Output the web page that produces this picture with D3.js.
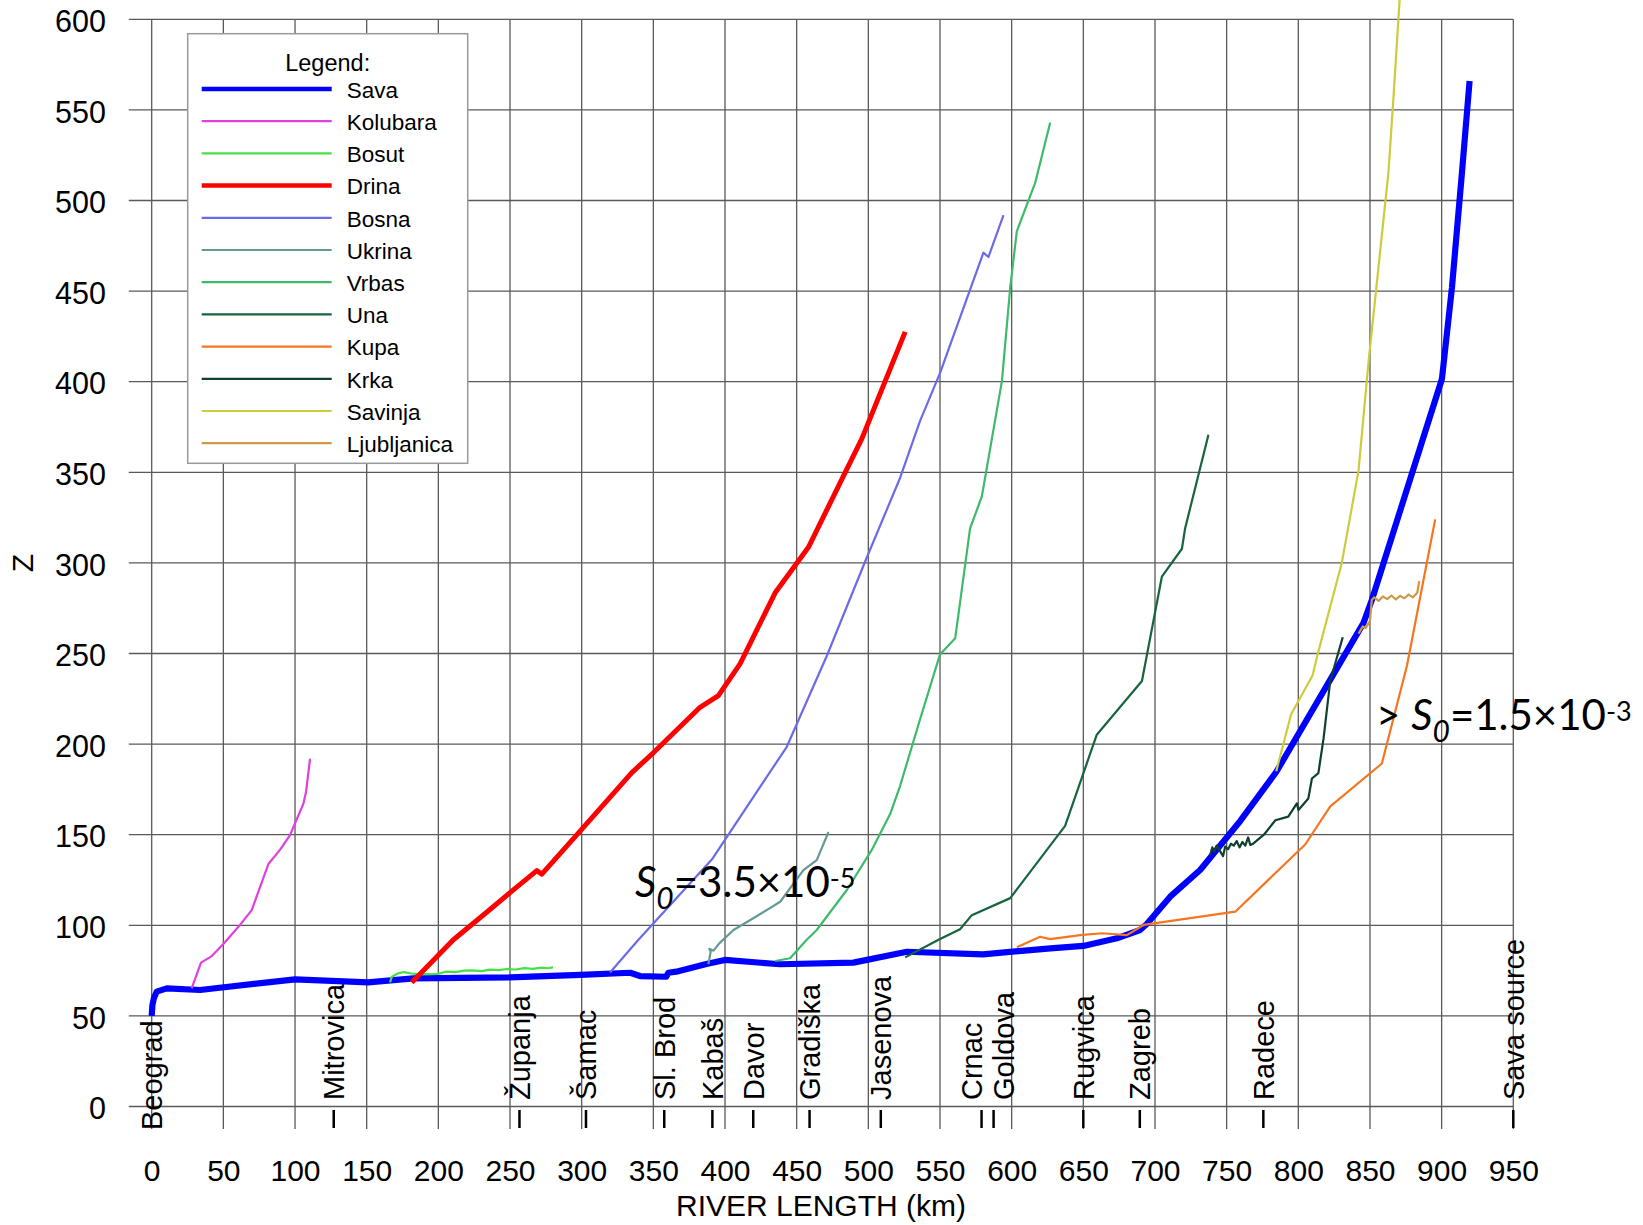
<!DOCTYPE html>
<html>
<head>
<meta charset="utf-8">
<script src="https://cdn.jsdelivr.net/npm/d3@7"></script>
<style>
  body { margin: 0; background: #fff; }
  svg text { font-family: "Liberation Sans", Arial, sans-serif; fill: #000; }
  .note text, text.note { font-family: Lato, "Open Sans", sans-serif; }
</style>
</head>
<body>
<svg id="chart" width="1643" height="1225"></svg>
<script>
// Long profiles of the Sava and its tributaries: [river length km, Z]
const sava = [[0,50],[0.5,56],[1.5,59.7],[3.5,63.4],[10.5,65.2],[33.7,64.3],[100,70.2],[151,68.5],
  [182.6,70.7],[250,71.3],[299,72.6],[333.8,73.8],[340.7,72],[359,71.6],[360.5,73.8],[366,74.4],
  [387,78.6],[400,80.9],[438.4,78.5],[489.6,79.4],[526.9,85.4],[580,84],[627,87.3],[650,88.6],
  [673.4,92.8],[689.6,97.4],[694.3,100.7],[710.6,115.8],[731.5,130.5],[759.5,157.6],[784.6,184.6],
  [845.5,266.9],[851.3,279.5],[900.2,401.5],[907.2,452],[914.2,515.6],[919.5,566]];
const kolubara = [[27.9,65.2],[34.4,79.4],[41.9,83],[50,89.7],[61.6,100.2],[69.8,108.4],[81.4,133.8],
  [89.5,141.6],[96.5,149.8],[100,156.3],[105.8,167],[107.7,173.7],[110.5,192]];
const bosut = [[166.3,68.5],[167.5,71.6],[172,73.5],[176,74.2],[181,73.4],[186,73.1],[194,73],[200,73.2],
  [205,74.4],[212,74.2],[218,75],[224,75.1],[230,74.7],[236,75.5],[242,75.3],[248,75.9],[254,75.6],
  [260,76.4],[266,76],[272,76.6],[276,76.3],[280,76.8]];
const drina = [[181.4,68.5],[210.5,92],[231.4,105.7],[250,118],[268.7,130.2],[272.2,128.2],[298.9,152],
  [335,184.3],[350,195.2],[382.6,220.3],[395.4,226.8],[410.5,244.3],[435,283.5],[458.2,308.6],
  [482.6,347.9],[495.5,368.6],[525.7,427.5]];
const bosna = [[319.8,74],[339.6,92],[390.8,136.3],[443.1,198.5],[471,248.6],[499,303.1],[522.2,347],
  [536.1,378.4],[550,404.7],[580.3,471.2],[583.8,468.8],[594.3,491.9]];
const ukrina = [[388.4,78.6],[390,85.5],[389,87],[392,86],[396,90],[405.9,97.4],[420,104],[438.5,113],
  [454.7,130.5],[464,136],[472.2,151.5]];
const vrbas = [[435,80.3],[445.4,81.8],[457,92],[464,97.4],[485,119.5],[502.4,141.6],[515.2,161.4],
  [522.2,177],[536.1,213.7],[550,249.5],[560.6,258.4],[571,319],[579.2,336.7],[593.2,400.3],
  [599,452],[603.6,483],[616.4,509.7],[626.9,543]];
const una = [[525.7,82.3],[549,92],[564,97.8],[572.2,105.6],[599,115],[637.3,154.9],[659.4,205.2],
  [690.9,234.8],[704.8,292.4],[718.8,307.8],[721,319],[737.3,370.7]];
const kupa = [[603.6,87.9],[619.9,93.7],[626.9,92.4],[647.8,94.6],[662.9,95.6],[680.4,94.6],[692,100.2],
  [756,107.5],[804.8,144.6],[822.3,165.6],[858.3,189.3],[875.8,243.2],[895.5,324]];
const krka = [[738.5,138.8],[740,143],[741.5,140.5],[743,144],[745,141.5],[747.5,138.2],[749,143.5],
  [751,142],[753,145],[755,144],[757,146.5],[759,143],[761,146],[763,144],[765,148.5],[766.5,144.3],
  [768.7,145.2],[776,150],[784,158],[793,160],[799,167.3],[800.1,163.6],[807,170],[809.5,181],
  [814,184],[817.6,203],[822.3,235],[831,259]];
const savinja = [[784.6,185],[795,216.5],[810,238],[813,248],[830.4,300.2],[842,350.9],[849,411],
  [854.9,455.4],[862.9,515.6],[866.9,563.1],[870.7,610.7]];
const ljubljanica = [[842,261],[845,265],[847,264],[850,268],[851.3,279.5],[853,281],[856,279],
  [859,281.5],[862,280],[865,282],[868,279.8],[871,281.8],[874,280.5],[877,282.5],[880,281],
  [883,283.5],[884.4,290]];

const rivers = ["Sava","Kolubara","Bosut","Drina","Bosna","Ukrina","Vrbas","Una","Kupa","Krka","Savinja","Ljubljanica"];
const profiles = [sava, kolubara, bosut, drina, bosna, ukrina, vrbas, una, kupa, krka, savinja, ljubljanica];

const stations = ["Beograd","Mitrovica","Županja","Šamac","Sl. Brod","Kabaš","Davor","Gradiška",
  "Jasenova","Crnac","Goldova","Rugvica","Zagreb","Radece","Sava source"];
const stationKm = [0,127,256.6,303,357.6,391.2,419.7,459,508.7,579,587.4,650,689.4,775.6,950];

const xTicks = [0,50,100,150,200,250,300,350,400,450,500,550,600,650,700,750,800,850,900,950];
const yTicks = [0,50,100,150,200,250,300,350,400,450,500,550,600];

// styles
const riverColor = {
  Sava: "#0000ff", Kolubara: "#e040e0", Bosut: "#44e044", Drina: "#ff0000",
  Bosna: "#6b6bea", Ukrina: "#639a96", Vrbas: "#3dbb6a", Una: "#17643d",
  Kupa: "#f57520", Krka: "#0f4030", Savinja: "#cccc3c", Ljubljanica: "#cc9a44"
};
const riverWidth = { Sava: 6.2, Drina: 5 };
const labelNudge = { Crnac: -10, Goldova: 10 };

const svg = d3.select("#chart");

const x = d3.scaleLinear().domain([0, 950]).range([151.7, 1513.3]);
const y = d3.scaleLinear().domain([0, 600]).range([1106.5, 19.3]);

// Grid
// ---------------------------------------------------------
const grid = svg.append("g").attr("stroke", "#5a5a5a").attr("stroke-width", 1.3);

grid.selectAll(".hgrid")
  .data(yTicks)
  .enter()
  .append("line")
    .attr("x1", x(-16)).attr("x2", x(950))
    .attr("y1", d => y(d)).attr("y2", d => y(d));

grid.selectAll(".vgrid")
  .data(xTicks)
  .enter()
  .append("line")
    .attr("x1", d => x(d)).attr("x2", d => x(d))
    .attr("y1", y(600)).attr("y2", y(0) + 22.5);

// Axes (labels only)
// ---------------------------------------------------------
const yAxis = svg.append("g")
  .attr("transform", "translate(106,0)")
  .call(d3.axisLeft(y).tickValues(yTicks).tickSize(0).tickPadding(0));
yAxis.select(".domain").remove();
yAxis.selectAll("text")
  .attr("font-size", 30.5)
  .attr("dy", "0.4em");

const xAxis = svg.append("g")
  .attr("transform", "translate(0,1160)")
  .call(d3.axisBottom(x).tickValues(xTicks).tickSize(0).tickPadding(0));
xAxis.select(".domain").remove();
xAxis.selectAll("text")
  .attr("font-size", 30);

svg.append("text")
  .attr("x", 821).attr("y", 1216)
  .attr("text-anchor", "middle")
  .attr("font-size", 30)
  .text("RIVER LENGTH (km)");

svg.append("text")
  .attr("transform", "translate(33,563) rotate(-90)")
  .attr("text-anchor", "middle")
  .attr("font-size", 30)
  .text("Z");

// Station labels
// ---------------------------------------------------------
const st = svg.append("g");
stations.forEach((name, i) => {
  const sx = x(stationKm[i]);
  if (i > 0) {
    st.append("line")
      .attr("x1", sx).attr("x2", sx)
      .attr("y1", 1110).attr("y2", 1128)
      .attr("stroke", "#000").attr("stroke-width", 2.5);
  }
  const lx = sx + (labelNudge[name] || 0);
  const ly = i === 0 ? 1130 : 1100;
  st.append("text")
    .attr("transform", `translate(${lx},${ly}) rotate(-90)`)
    .attr("dy", "0.36em")
    .attr("font-size", 29)
    .text(name);
});

// Profiles
// ---------------------------------------------------------
const line = d3.line().x(d => x(d[0])).y(d => y(d[1]));

svg.append("g").selectAll(".profile")
  .data(profiles)
  .enter()
  .append("path")
    .attr("class", "profile")
    .attr("d", line)
    .attr("fill", "none")
    .attr("stroke", (d, i) => riverColor[rivers[i]])
    .attr("stroke-width", (d, i) => riverWidth[rivers[i]] || 2.2)
    .attr("stroke-linejoin", "round");

// Legend
// ---------------------------------------------------------
const legend = svg.append("g");
legend.append("rect")
  .attr("x", 187.7).attr("y", 33.7)
  .attr("width", 280).attr("height", 429.6)
  .attr("fill", "#fff").attr("stroke", "#999").attr("stroke-width", 1.5);
legend.append("text")
  .attr("x", 327.7).attr("y", 70.7)
  .attr("text-anchor", "middle")
  .attr("font-size", 23.5)
  .text("Legend:");

const items = legend.selectAll(".item")
  .data(rivers)
  .enter()
  .append("g")
    .attr("transform", (d, i) => `translate(0,${89 + i * 32.2})`);
items.append("line")
  .attr("x1", 201.7).attr("x2", 331.7)
  .attr("stroke", d => riverColor[d])
  .attr("stroke-width", d => (riverWidth[d] ? 4.5 : 2.2));
items.append("text")
  .attr("x", 346.7).attr("y", 8.8)
  .attr("font-size", 22.5)
  .text(d => d);

// Slope annotations
// ---------------------------------------------------------
function slopeNote(px, py, prefix, value, exp) {
  const t = svg.append("text").attr("class", "note")
    .attr("x", px).attr("y", py).attr("font-size", 42);
  if (prefix) t.append("tspan").text(prefix);
  t.append("tspan").attr("font-style", "italic").text("S");
  t.append("tspan").attr("font-style", "italic").attr("font-size", 30).attr("dy", 12).text("0");
  t.append("tspan").attr("dy", -12).text("=" + value + "×10");
  t.append("tspan").attr("font-size", 27).attr("dy", -9).text(exp);
}
slopeNote(635, 897, null, "3.5", "-5");
slopeNote(1376, 730, "> ", "1.5", "-3");
</script>
</body>
</html>
